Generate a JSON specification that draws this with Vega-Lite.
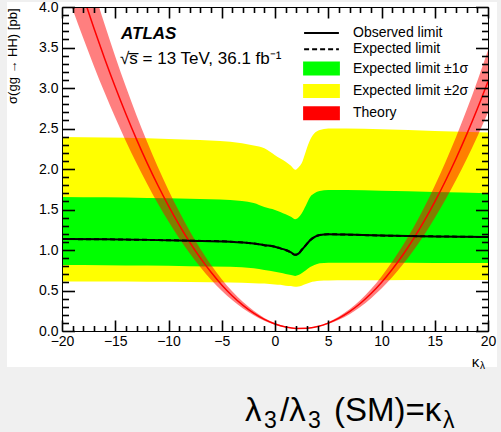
{
  "$schema": "https://vega.github.io/schema/vega-lite/v6.json",
  "width": 426,
  "height": 324,
  "autosize": {"type": "none"},
  "padding": {"left": 62, "top": 7, "right": 13, "bottom": 101},
  "background": "#f0f0f0",
  "config": {
    "view": {"stroke": null},
    "font": "Liberation Sans",
    "axis": {"grid": false, "domainColor": "#000", "labelColor": "#000", "titleColor": "#000", "labelFont": "Liberation Sans", "titleFont": "Liberation Sans"}
  },
  "datasets": {
    "bands": [
      {"k": -20, "m2": 0.61, "m1": 0.815, "exp": 1.135, "obs": 1.135, "p1": 1.655, "p2": 2.395},
      {"k": -16, "m2": 0.61, "m1": 0.812, "exp": 1.132, "obs": 1.132, "p1": 1.65, "p2": 2.39},
      {"k": -12, "m2": 0.608, "m1": 0.808, "exp": 1.125, "obs": 1.125, "p1": 1.642, "p2": 2.38},
      {"k": -8, "m2": 0.605, "m1": 0.8, "exp": 1.115, "obs": 1.115, "p1": 1.632, "p2": 2.36},
      {"k": -4.2, "m2": 0.6, "m1": 0.794, "exp": 1.103, "obs": 1.103, "p1": 1.617, "p2": 2.337},
      {"k": -2, "m2": 0.59, "m1": 0.775, "exp": 1.08, "obs": 1.08, "p1": 1.58, "p2": 2.29},
      {"k": -1, "m2": 0.585, "m1": 0.753, "exp": 1.06, "obs": 1.06, "p1": 1.53, "p2": 2.255},
      {"k": 0, "m2": 0.575, "m1": 0.733, "exp": 1.04, "obs": 1.04, "p1": 1.495, "p2": 2.17},
      {"k": 0.5, "m2": 0.57, "m1": 0.72, "exp": 1.02, "obs": 1.02, "p1": 1.47, "p2": 2.13},
      {"k": 1, "m2": 0.56, "m1": 0.705, "exp": 1.0, "obs": 1.0, "p1": 1.44, "p2": 2.09},
      {"k": 1.5, "m2": 0.555, "m1": 0.69, "exp": 0.97, "obs": 0.97, "p1": 1.41, "p2": 2.04},
      {"k": 1.9, "m2": 0.547, "m1": 0.68, "exp": 0.94, "obs": 0.94, "p1": 1.38, "p2": 1.99},
      {"k": 2.2, "m2": 0.55, "m1": 0.69, "exp": 0.955, "obs": 0.955, "p1": 1.4, "p2": 2.02},
      {"k": 2.5, "m2": 0.56, "m1": 0.712, "exp": 1.0, "obs": 1.0, "p1": 1.45, "p2": 2.07},
      {"k": 2.9, "m2": 0.58, "m1": 0.75, "exp": 1.06, "obs": 1.06, "p1": 1.55, "p2": 2.22},
      {"k": 3.3, "m2": 0.6, "m1": 0.79, "exp": 1.12, "obs": 1.12, "p1": 1.655, "p2": 2.36},
      {"k": 3.7, "m2": 0.61, "m1": 0.815, "exp": 1.16, "obs": 1.16, "p1": 1.7, "p2": 2.44},
      {"k": 4.2, "m2": 0.62, "m1": 0.836, "exp": 1.185, "obs": 1.185, "p1": 1.728, "p2": 2.48},
      {"k": 5, "m2": 0.625, "m1": 0.843, "exp": 1.195, "obs": 1.195, "p1": 1.74, "p2": 2.5},
      {"k": 6.7, "m2": 0.627, "m1": 0.843, "exp": 1.19, "obs": 1.19, "p1": 1.74, "p2": 2.5},
      {"k": 10, "m2": 0.628, "m1": 0.842, "exp": 1.178, "obs": 1.178, "p1": 1.73, "p2": 2.49},
      {"k": 15, "m2": 0.63, "m1": 0.84, "exp": 1.168, "obs": 1.168, "p1": 1.715, "p2": 2.47},
      {"k": 20, "m2": 0.63, "m1": 0.838, "exp": 1.16, "obs": 1.16, "p1": 1.7, "p2": 2.45}
    ],
    "theory": [
      {"k": -20, "t": 4.972, "lo": 4.351, "hi": 5.594},
      {"k": -19, "t": 4.541, "lo": 3.973, "hi": 5.109},
      {"k": -18, "t": 4.129, "lo": 3.613, "hi": 4.645},
      {"k": -17, "t": 3.737, "lo": 3.27, "hi": 4.204},
      {"k": -16, "t": 3.365, "lo": 2.944, "hi": 3.786},
      {"k": -15, "t": 3.012, "lo": 2.636, "hi": 3.389},
      {"k": -14, "t": 2.679, "lo": 2.344, "hi": 3.014},
      {"k": -13, "t": 2.366, "lo": 2.07, "hi": 2.662},
      {"k": -12, "t": 2.073, "lo": 1.814, "hi": 2.332},
      {"k": -11, "t": 1.799, "lo": 1.574, "hi": 2.024},
      {"k": -10, "t": 1.545, "lo": 1.352, "hi": 1.738},
      {"k": -9, "t": 1.31, "lo": 1.146, "hi": 1.474},
      {"k": -8, "t": 1.095, "lo": 0.958, "hi": 1.232},
      {"k": -7, "t": 0.9, "lo": 0.788, "hi": 1.013},
      {"k": -6, "t": 0.725, "lo": 0.634, "hi": 0.816},
      {"k": -5, "t": 0.569, "lo": 0.498, "hi": 0.64},
      {"k": -4, "t": 0.433, "lo": 0.379, "hi": 0.487},
      {"k": -3, "t": 0.317, "lo": 0.277, "hi": 0.357},
      {"k": -2, "t": 0.221, "lo": 0.193, "hi": 0.249},
      {"k": -1, "t": 0.144, "lo": 0.126, "hi": 0.162},
      {"k": 0, "t": 0.087, "lo": 0.076, "hi": 0.098},
      {"k": 1, "t": 0.049, "lo": 0.043, "hi": 0.055},
      {"k": 2, "t": 0.032, "lo": 0.028, "hi": 0.036},
      {"k": 3, "t": 0.034, "lo": 0.03, "hi": 0.038},
      {"k": 4, "t": 0.055, "lo": 0.048, "hi": 0.062},
      {"k": 5, "t": 0.097, "lo": 0.085, "hi": 0.109},
      {"k": 6, "t": 0.158, "lo": 0.138, "hi": 0.178},
      {"k": 7, "t": 0.238, "lo": 0.208, "hi": 0.268},
      {"k": 8, "t": 0.339, "lo": 0.297, "hi": 0.381},
      {"k": 9, "t": 0.459, "lo": 0.402, "hi": 0.516},
      {"k": 10, "t": 0.599, "lo": 0.524, "hi": 0.674},
      {"k": 11, "t": 0.759, "lo": 0.664, "hi": 0.854},
      {"k": 12, "t": 0.938, "lo": 0.821, "hi": 1.055},
      {"k": 13, "t": 1.137, "lo": 0.995, "hi": 1.279},
      {"k": 14, "t": 1.355, "lo": 1.186, "hi": 1.524},
      {"k": 15, "t": 1.594, "lo": 1.395, "hi": 1.793},
      {"k": 16, "t": 1.852, "lo": 1.621, "hi": 2.084},
      {"k": 17, "t": 2.13, "lo": 1.864, "hi": 2.396},
      {"k": 18, "t": 2.427, "lo": 2.124, "hi": 2.73},
      {"k": 19, "t": 2.744, "lo": 2.401, "hi": 3.087},
      {"k": 20, "t": 3.081, "lo": 2.696, "hi": 3.466}
    ]
  },
  "layer": [
    {
      "data": {"values": [{}]},
      "mark": {"type": "rect", "color": "#ffffff", "clip": false},
      "encoding": {
        "x": {"datum": -25.16, "type": "quantitative", "scale": {"domain": [-20, 20], "nice": false, "zero": false}, "axis": null},
        "x2": {"datum": 20.85},
        "y": {"datum": 4.062, "type": "quantitative", "scale": {"domain": [0, 4], "nice": false, "zero": false}, "axis": null},
        "y2": {"datum": -0.444}
      }
    },
    {
      "data": {"name": "bands"},
      "mark": {"type": "area", "interpolate": "monotone", "clip": true},
      "encoding": {
        "x": {"field": "k", "type": "quantitative", "scale": {"domain": [-20, 20], "nice": false, "zero": false},
          "axis": {"orient": "bottom", "title": null, "zindex": 1, "tickColor": "#000000", "tickWidth": 1.6,
            "values": [-20,-19,-18,-17,-16,-15,-14,-13,-12,-11,-10,-9,-8,-7,-6,-5,-4,-3,-2,-1,0,1,2,3,4,5,6,7,8,9,10,11,12,13,14,15,16,17,18,19,20],
            "labelExpr": "datum.value % 5 === 0 ? format(datum.value, 'd') : ''",
            "tickSize": {"condition": {"test": "datum.value % 5 === 0", "value": -11}, "value": -5.5},
            "labelPadding": 14, "labelFlush": false, "labelOverlap": false, "labelBound": false, "labelFontSize": 14}},
        "y": {"field": "m2", "type": "quantitative", "scale": {"domain": [0, 4], "nice": false, "zero": false},
          "axis": {"orient": "left", "title": "σ(gg → HH) [pb]", "zindex": 1, "tickColor": "#000000", "tickWidth": 1.6,
            "values": [0,0.1,0.2,0.3,0.4,0.5,0.6,0.7,0.8,0.9,1,1.1,1.2,1.3,1.4,1.5,1.6,1.7,1.8,1.9,2,2.1,2.2,2.3,2.4,2.5,2.6,2.7,2.8,2.9,3,3.1,3.2,3.3,3.4,3.5,3.6,3.7,3.8,3.9,4],
            "labelExpr": "abs(datum.value*2 - round(datum.value*2)) < 0.001 ? format(datum.value, '.1f') : ''",
            "tickSize": {"condition": {"test": "abs(datum.value*2 - round(datum.value*2)) < 0.001", "value": -12.5}, "value": -6.5},
            "labelPadding": 16.5, "labelOverlap": false, "labelBound": false, "labelFontSize": 14,
            "titleFontSize": 13, "titleFontWeight": "normal", "titleX": -45.5, "titleY": 1, "titleAlign": "right", "titleAngle": -90, "titleBaseline": "alphabetic"}},
        "y2": {"field": "p2"},
        "color": {"datum": "Expected limit ±2σ", "type": "nominal",
          "scale": {"domain": ["Observed limit", "Expected limit", "Expected limit ±1σ", "Expected limit ±2σ", "Theory"], "range": ["#000000", "#000000", "#00ff00", "#ffff00", "#ff0000"]},
          "legend": {"orient": "none", "legendX": 252.5, "legendY": 19, "title": null, "padding": 0,
            "symbolType": "M-2.9,-1H2.9V1H-2.9Z", "symbolSize": 144, "labelFontSize": 14, "labelFont": "Liberation Sans", "labelColor": "#000", "labelOffset": 24.5, "rowPadding": 2.3,
            "encode": {"symbols": {"update": {
              "shape": {"signal": "(datum.value === 'Observed limit' || datum.value === 'Expected limit') ? 'M-2.9,0H2.9' : 'M-2.9,-1H2.9V1H-2.9Z'"},
              "fill": {"signal": "(datum.value === 'Observed limit' || datum.value === 'Expected limit') ? 'transparent' : scale('color', datum.value)"},
              "stroke": {"signal": "(datum.value === 'Observed limit' || datum.value === 'Expected limit') ? '#000000' : 'transparent'"},
              "strokeDash": {"signal": "datum.value === 'Expected limit' ? [5, 3] : [1, 0]"},
              "strokeWidth": {"value": 2},
              "opacity": {"value": 1},
              "fillOpacity": {"value": 1},
              "strokeOpacity": {"value": 1}
            }}}}}
      }
    },
    {
      "data": {"name": "bands"},
      "mark": {"type": "area", "interpolate": "monotone", "clip": true},
      "encoding": {
        "x": {"field": "k", "type": "quantitative", "scale": {"domain": [-20, 20], "nice": false, "zero": false},
          "axis": {"orient": "top", "title": null, "labels": false, "zindex": 1, "tickColor": "#000000", "tickWidth": 1.6,
            "values": [-20,-19,-18,-17,-16,-15,-14,-13,-12,-11,-10,-9,-8,-7,-6,-5,-4,-3,-2,-1,0,1,2,3,4,5,6,7,8,9,10,11,12,13,14,15,16,17,18,19,20],
            "tickSize": {"condition": {"test": "datum.value % 5 === 0", "value": -11}, "value": -5.5}}},
        "y": {"field": "m1", "type": "quantitative", "scale": {"domain": [0, 4], "nice": false, "zero": false},
          "axis": {"orient": "right", "title": null, "labels": false, "zindex": 1, "tickColor": "#000000", "tickWidth": 1.6,
            "values": [0,0.1,0.2,0.3,0.4,0.5,0.6,0.7,0.8,0.9,1,1.1,1.2,1.3,1.4,1.5,1.6,1.7,1.8,1.9,2,2.1,2.2,2.3,2.4,2.5,2.6,2.7,2.8,2.9,3,3.1,3.2,3.3,3.4,3.5,3.6,3.7,3.8,3.9,4],
            "tickSize": {"condition": {"test": "abs(datum.value*2 - round(datum.value*2)) < 0.001", "value": -12.5}, "value": -6.5}}},
        "y2": {"field": "p1"},
        "color": {"datum": "Expected limit ±1σ", "type": "nominal"}
      }
    },
    {
      "data": {"name": "theory"},
      "mark": {"type": "area", "interpolate": "monotone", "clip": true, "opacity": 0.5},
      "encoding": {
        "x": {"field": "k", "type": "quantitative", "scale": {"domain": [-20, 20], "nice": false, "zero": false}, "axis": null},
        "y": {"field": "lo", "type": "quantitative", "scale": {"domain": [0, 4], "nice": false, "zero": false}, "axis": null},
        "y2": {"field": "hi"},
        "color": {"datum": "Theory", "type": "nominal"}
      }
    },
    {
      "data": {"name": "theory"},
      "mark": {"type": "line", "interpolate": "monotone", "clip": true, "color": "#ff0000", "strokeWidth": 1.5},
      "encoding": {
        "x": {"field": "k", "type": "quantitative", "scale": {"domain": [-20, 20], "nice": false, "zero": false}, "axis": null},
        "y": {"field": "t", "type": "quantitative", "scale": {"domain": [0, 4], "nice": false, "zero": false}, "axis": null}
      }
    },
    {
      "data": {"name": "bands"},
      "mark": {"type": "line", "interpolate": "monotone", "clip": true, "strokeWidth": 2, "strokeDash": [5, 3]},
      "encoding": {
        "x": {"field": "k", "type": "quantitative", "scale": {"domain": [-20, 20], "nice": false, "zero": false}, "axis": null},
        "y": {"field": "exp", "type": "quantitative", "scale": {"domain": [0, 4], "nice": false, "zero": false}, "axis": null},
        "color": {"datum": "Expected limit", "type": "nominal"}
      }
    },
    {
      "data": {"name": "bands"},
      "mark": {"type": "line", "interpolate": "monotone", "clip": true, "strokeWidth": 2},
      "encoding": {
        "x": {"field": "k", "type": "quantitative", "scale": {"domain": [-20, 20], "nice": false, "zero": false}, "axis": null},
        "y": {"field": "obs", "type": "quantitative", "scale": {"domain": [0, 4], "nice": false, "zero": false}, "axis": null},
        "color": {"datum": "Observed limit", "type": "nominal"}
      }
    },
    {
      "data": {"values": [{"t": "ATLAS", "k": -14.46, "s": 3.601}]},
      "mark": {"type": "text", "align": "left", "baseline": "alphabetic", "fontSize": 17, "fontWeight": "bold", "fontStyle": "italic", "color": "#000", "clip": false},
      "encoding": {
        "x": {"field": "k", "type": "quantitative", "axis": null},
        "y": {"field": "s", "type": "quantitative", "axis": null},
        "text": {"field": "t"}
      }
    },
    {
      "data": {"values": [{"t": "√s̅ = 13 TeV, 36.1 fb⁻¹", "k": -14.55, "s": 3.296}]},
      "mark": {"type": "text", "align": "left", "baseline": "alphabetic", "fontSize": 17, "color": "#000", "clip": false},
      "encoding": {
        "x": {"field": "k", "type": "quantitative", "axis": null},
        "y": {"field": "s", "type": "quantitative", "axis": null},
        "text": {"field": "t"}
      }
    },
    {
      "data": {"values": [{"t": "κ", "k": 18.47, "s": -0.441}]},
      "mark": {"type": "text", "align": "left", "baseline": "alphabetic", "fontSize": 15, "color": "#000", "clip": false},
      "encoding": {
        "x": {"field": "k", "type": "quantitative", "axis": null},
        "y": {"field": "s", "type": "quantitative", "axis": null},
        "text": {"field": "t"}
      }
    },
    {
      "data": {"values": [{"t": "λ", "k": 19.25, "s": -0.473}]},
      "mark": {"type": "text", "align": "left", "baseline": "alphabetic", "fontSize": 10, "color": "#000", "clip": false},
      "encoding": {
        "x": {"field": "k", "type": "quantitative", "axis": null},
        "y": {"field": "s", "type": "quantitative", "axis": null},
        "text": {"field": "t"}
      }
    },
    {
      "data": {"values": [{"t": "λ", "k": -2.82, "s": -1.107}, {"t": "/λ", "k": 0.47, "s": -1.107}, {"t": "(SM)=κ", "k": 5.54, "s": -1.107}]},
      "mark": {"type": "text", "align": "left", "baseline": "alphabetic", "fontSize": 33, "color": "#000", "clip": false},
      "encoding": {
        "x": {"field": "k", "type": "quantitative", "axis": null},
        "y": {"field": "s", "type": "quantitative", "axis": null},
        "text": {"field": "t"}
      }
    },
    {
      "data": {"values": [{"t": "3", "k": -1.03, "s": -1.198}, {"t": "3", "k": 3.1, "s": -1.198}, {"t": "λ", "k": 15.77, "s": -1.198}]},
      "mark": {"type": "text", "align": "left", "baseline": "alphabetic", "fontSize": 23, "color": "#000", "clip": false},
      "encoding": {
        "x": {"field": "k", "type": "quantitative", "axis": null},
        "y": {"field": "s", "type": "quantitative", "axis": null},
        "text": {"field": "t"}
      }
    }
  ],
  "resolve": {"axis": {"x": "independent", "y": "independent"}}
}
